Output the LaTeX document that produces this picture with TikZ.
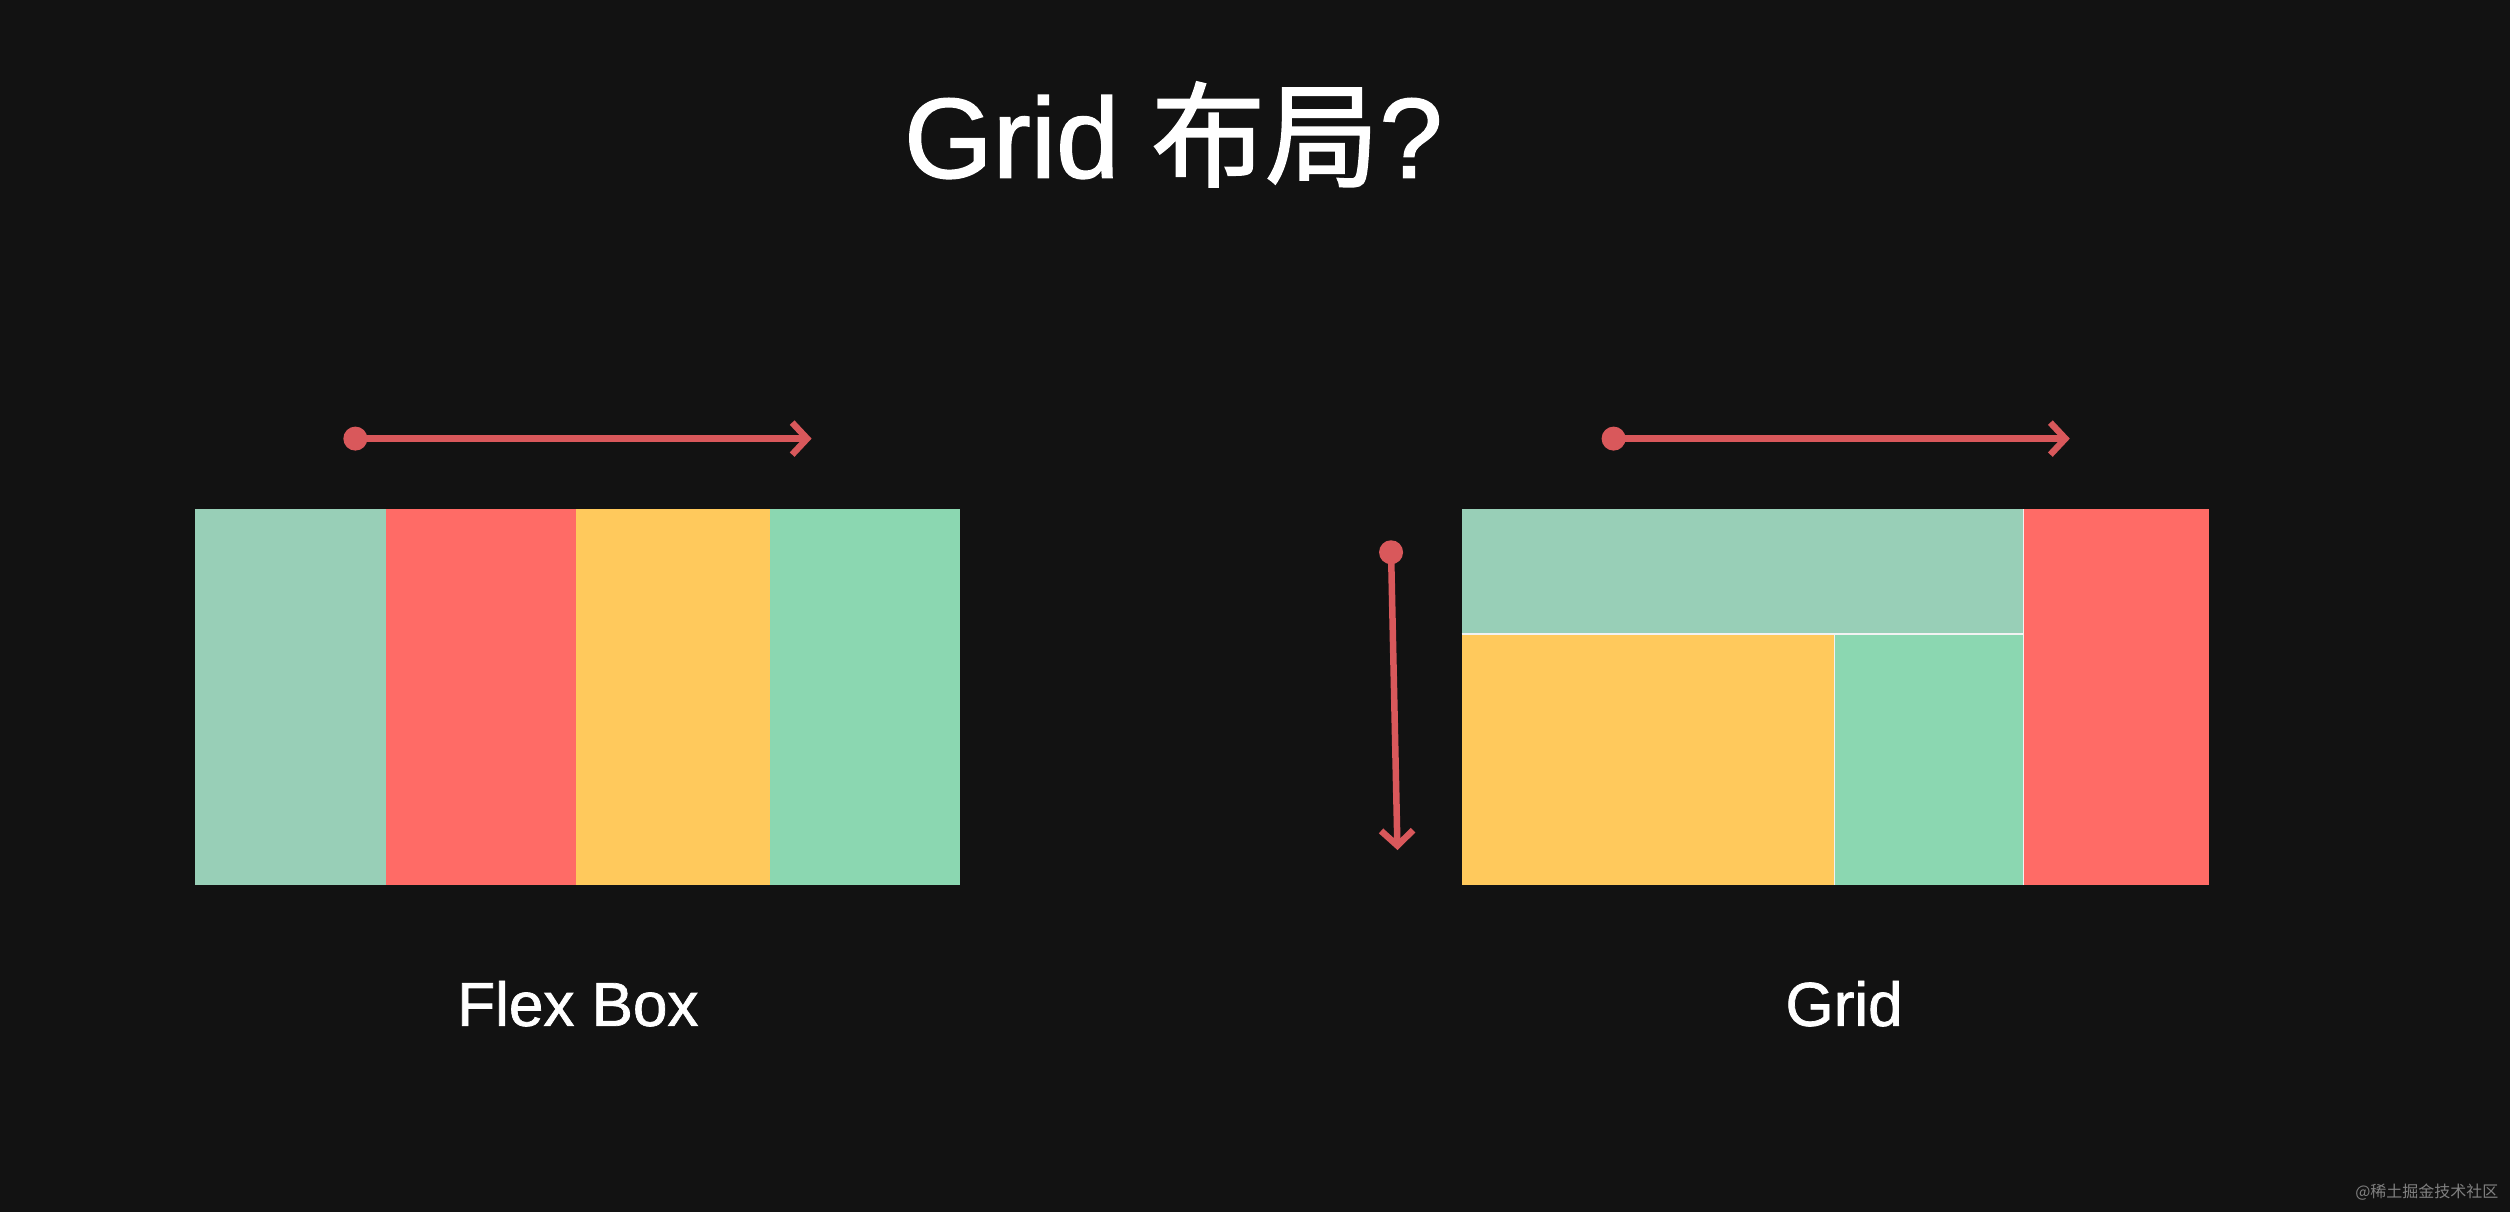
\documentclass[tikz,border=0pt]{standalone}
\usepackage{fontspec}
\setmainfont{Liberation Sans}[FakeBold=1.2]
\newfontfamily\cjk{Noto Sans CJK SC}
\newfontfamily\cjkb{Noto Sans CJK SC}[FakeBold=1.5]
\usetikzlibrary{arrows.meta}
\definecolor{bg}{HTML}{121212}
\definecolor{cgreenA}{HTML}{98CFB7}
\definecolor{cred}{HTML}{FF6B66}
\definecolor{cyellow}{HTML}{FFC95C}
\definecolor{cgreenB}{HTML}{8BD7B1}
\definecolor{carrow}{HTML}{D9585B}
\tikzset{
  sep/.style={draw=white!90!gray,line width=1.4pt},
  flow/.style={draw=carrow,line width=6.5pt,line cap=round,-{Straight Barb[length=15pt,width=32pt,line width=6.5pt]}},
  dotstart/.style={circle,fill=carrow,inner sep=0pt,minimum size=24pt},
  lbl/.style={text=white,font=\fontsize{62}{66}\selectfont},
}
\begin{document}
\begin{tikzpicture}[x=1.6pt,y=-1.6pt]
\fill[bg] (0,0) rectangle (1568,757);
\useasboundingbox (0,0) rectangle (1568,757);
\node[text=white,font=\fontsize{114}{120}\selectfont] (title) at (733,84) {Grid {\cjkb 布局}?};
% Flex box
\fill[cgreenA] (122,318) rectangle (241,553);
\fill[cred] (241,318) rectangle (360,553);
\fill[cyellow] (360,318) rectangle (481,553);
\fill[cgreenB] (481,318) rectangle (600,553);
\node[dotstart] (fa) at (222,274) {};
\coordinate (fb) at (507,274);
\draw[flow] (fa.center) -- (fb);
\node[lbl] (flexl) at (361,627) {Flex Box};
% Grid
\fill[cgreenA] (913,318) rectangle (1264,396);
\fill[cred] (1264,318) rectangle (1380,553);
\fill[cyellow] (913,396) rectangle (1146,553);
\fill[cgreenB] (1146,396) rectangle (1264,553);
\draw[sep] (913,396) -- (1264,396);
\draw[sep] (1146,396) -- (1146,553);
\draw[sep] (1264,318) -- (1264,553);
\node[dotstart] (ga) at (1008,274) {};
\coordinate (gb) at (1293,274);
\draw[flow] (ga.center) -- (gb);
\node[dotstart] (va) at (869,345) {};
\coordinate (vb) at (873,531);
\draw[flow] (va.center) -- (vb);
\node[lbl] (gridl) at (1152,627) {Grid};
\node[text=gray,font=\cjk\fontsize{16}{18}\selectfont,anchor=east] (wm) at (1563,745) {@稀土掘金技术社区};
\end{tikzpicture}
\end{document}
